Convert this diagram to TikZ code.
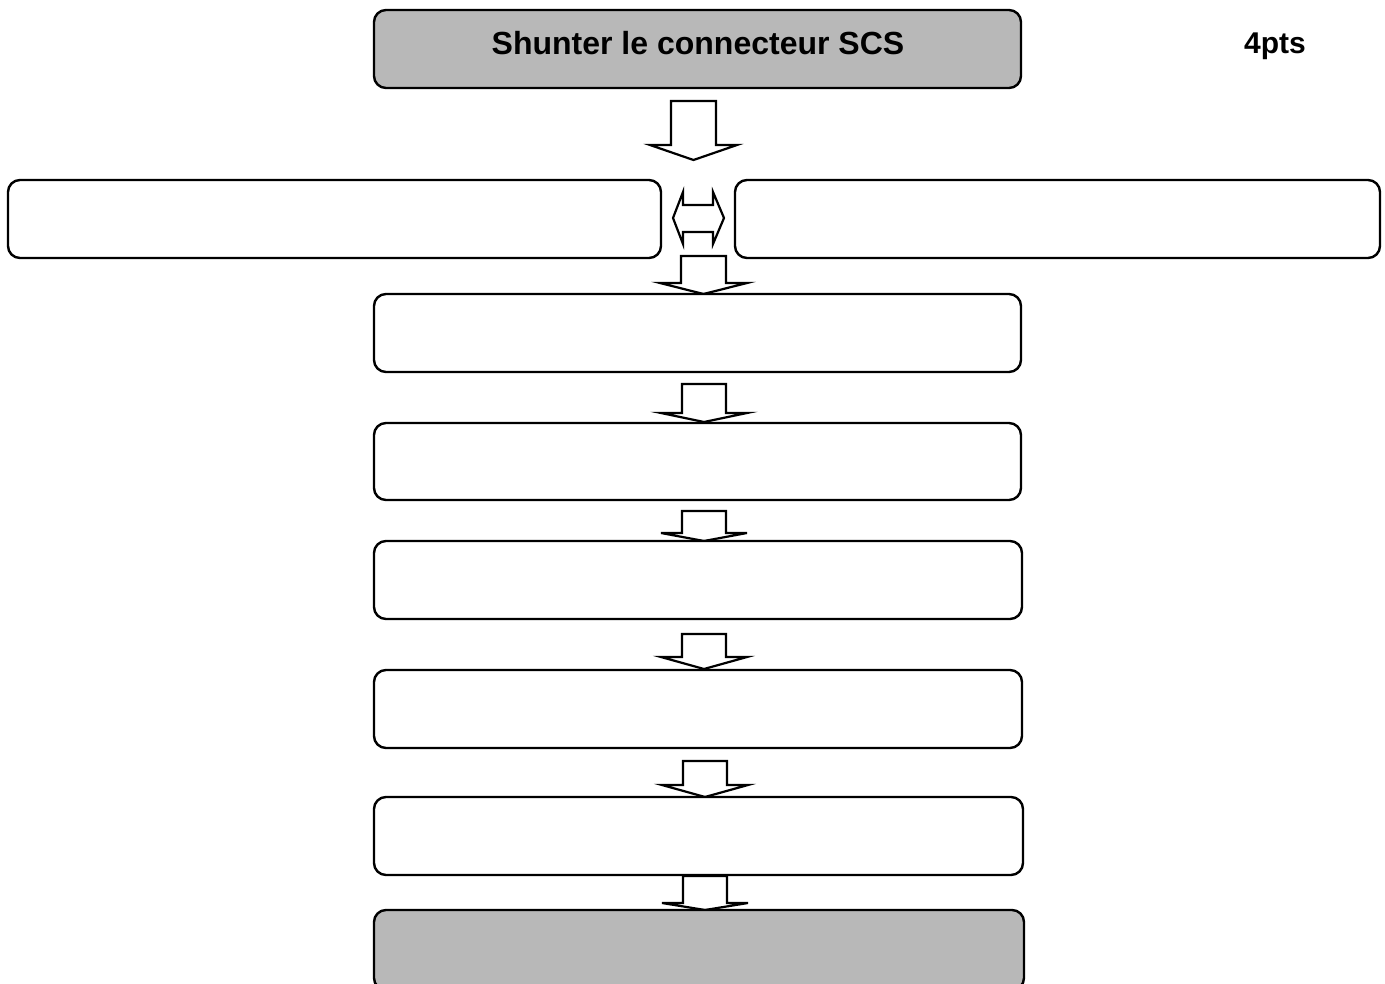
\documentclass[tikz,border=0pt]{standalone}
\usepackage{fontspec}
\setmainfont{Liberation Sans}
\tikzset{
  box/.style={draw, line width=2.4pt, rounded corners=12pt, fill=white, inner sep=0pt},
  graybox/.style={box, fill=black!28},
  blockarrow/.style={draw, line width=2.2pt, fill=white, line join=miter},
  title/.style={font=\bfseries\fontsize{32}{38}\selectfont, inner sep=0pt},
  ptsstyle/.style={font=\bfseries\fontsize{30}{36}\selectfont, inner sep=0pt}
}
\newcommand\bdarrow[5]{%
  \draw[blockarrow] (#1,#3) -- (#1,#4) -- ({#1-21},#4) -- ({(#1+#2)/2},#5) -- ({#2+21},#4) -- (#2,#4) -- (#2,#3) -- cycle;}
\begin{document}
\begin{tikzpicture}[x=1pt,y=-1pt]
\useasboundingbox (0,0) rectangle (1385,984);
\clip (0,0) rectangle (1385,984);
% block arrows
\bdarrow{671}{716}{101}{145}{160}
\bdarrow{681}{726}{256}{283}{294}
\bdarrow{682}{726}{384}{413}{422}
\bdarrow{682}{726}{511}{533}{541}
\bdarrow{682}{726}{634}{657}{669}
\bdarrow{683}{727}{761}{785}{797}
\bdarrow{683}{727}{876}{903}{910}
\draw[blockarrow] (673,218) -- (683,192) -- (683,205) -- (713,205) -- (713,192) -- (724,218) -- (713,244) -- (713,232) -- (683,232) -- (683,244) -- cycle;
% boxes
\node[graybox, minimum width=647pt, minimum height=78pt] (top) at (697.5,49) {};
\node[title] (toptext) at (698,43) {Shunter le connecteur SCS};
\node[box, minimum width=653pt, minimum height=78pt] (left) at (334.5,219) {};
\node[box, minimum width=645pt, minimum height=78pt] (right) at (1057.5,219) {};
\node[box, minimum width=647pt, minimum height=78pt] (b3) at (697.5,333) {};
\node[box, minimum width=647pt, minimum height=77pt] (b4) at (697.5,461.5) {};
\node[box, minimum width=648pt, minimum height=78pt] (b5) at (698,580) {};
\node[box, minimum width=648pt, minimum height=78pt] (b6) at (698,709) {};
\node[box, minimum width=649pt, minimum height=78pt] (b7) at (698.5,836) {};
\node[graybox, minimum width=650pt, minimum height=80pt] (bottom) at (699,950) {};
\node[ptsstyle] (pts) at (1275,46) {4pts};
\end{tikzpicture}
\end{document}
